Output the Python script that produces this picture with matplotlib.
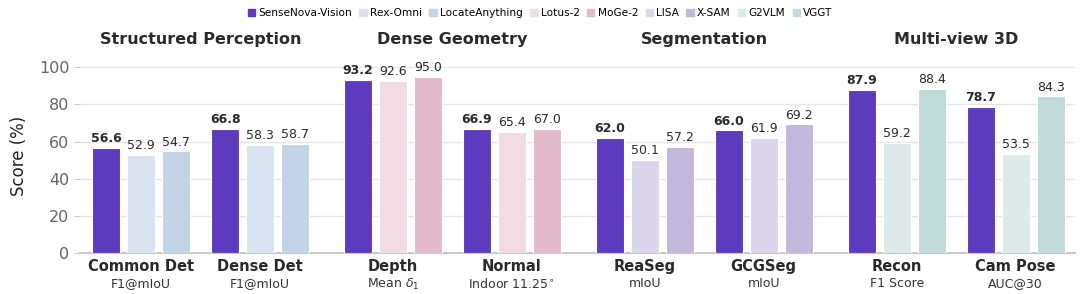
import matplotlib
matplotlib.use("Agg")
import matplotlib.pyplot as plt
from matplotlib.patches import Patch
from matplotlib.transforms import blended_transform_factory
import numpy as np

categories = ["Common Det", "Dense Det", "Depth", "Normal", "ReaSeg", "GCGSeg", "Recon", "Cam Pose"]
metrics = ["F1@mIoU", "F1@mIoU", r"Mean $\delta_1$", r"Indoor 11.25$^\circ$", "mIoU", "mIoU", "F1 Score", "AUC@30"]
sections = ["Structured Perception", "Dense Geometry", "Segmentation", "Multi-view 3D"]

sensenova = [56.6, 66.8, 93.2, 66.9, 62.0, 66.0, 87.9, 78.7]
comp_a = [52.9, 58.3, 92.6, 65.4, 50.1, 61.9, 59.2, 53.5]
comp_b = [54.7, 58.7, 95.0, 67.0, 57.2, 69.2, 88.4, 84.3]
comp_a_names = ["Rex-Omni", "Lotus-2", "LISA", "G2VLM"]
comp_b_names = ["LocateAnything", "MoGe-2", "X-SAM", "VGGT"]

main_name = "SenseNova-Vision"
main_color = "#5E3BBE"
comp_a_colors = ["#DAE4F0", "#F1DCE4", "#DDD6EB", "#DCEBE9"]
comp_b_colors = ["#C3D4E7", "#E3BACB", "#C4B7DC", "#C0DBDA"]

fig = plt.figure(figsize=(10.8, 2.94), dpi=100)
ax = fig.add_axes([80/1080, 41/294, 995/1080, 195/294])

# group centers: within-section step 3.4, between sections 3.8
centers = []
x = 0.0
for i in range(len(categories)):
    if i > 0:
        x += 3.4 if i % 2 == 1 else 3.8
    centers.append(x)
centers = np.array(centers)

w = 0.8
text_col = "#2a2a2a"
for i, c in enumerate(centers):
    s = i // 2
    vals = [sensenova[i], comp_a[i], comp_b[i]]
    cols = [main_color, comp_a_colors[s], comp_b_colors[s]]
    for j, (v, col) in enumerate(zip(vals, cols)):
        xp = c + (j - 1) * 1.0
        ax.bar(xp, v, width=w, color=col, edgecolor="white", linewidth=0.8, zorder=3)
        ax.annotate(f"{v:.1f}", (xp, v), xytext=(0, 2), textcoords="offset points",
                    ha="center", va="bottom", fontsize=9,
                    fontweight="bold" if j == 0 else "normal", color=text_col)

ax.set_xlim(-1.75, 26.7)
ax.set_ylim(0, 105)
ax.set_yticks([0, 20, 40, 60, 80, 100])
ax.tick_params(axis="y", labelsize=11.5, labelcolor="#666666", color="#cccccc", length=4)
ax.set_xticks([])
ax.grid(axis="y", color="#e6e6e6", linewidth=1, zorder=0)
ax.set_axisbelow(True)
for sp in ["top", "right", "left"]:
    ax.spines[sp].set_visible(False)
ax.spines["bottom"].set_color("#c8c8c8")
ax.spines["bottom"].set_linewidth(1.5)
ax.set_ylabel("Score (%)", fontsize=12, color="#222222", labelpad=8)

trans = blended_transform_factory(ax.transData, ax.transAxes)
for c, cat, met in zip(centers, categories, metrics):
    ax.annotate(cat, (c, 0), xycoords=trans, xytext=(0, -4), textcoords="offset points",
                ha="center", va="top", fontsize=10.5, fontweight="bold", color=text_col)
    ax.annotate(met, (c, 0), xycoords=trans, xytext=(0, -17), textcoords="offset points",
                ha="center", va="top", fontsize=9, color="#333333")

for s, name in enumerate(sections):
    xc = (centers[2*s] + centers[2*s+1]) / 2
    ax.annotate(name, (xc, 1), xycoords=trans, xytext=(0, 13), textcoords="offset points",
                ha="center", va="center", fontsize=11.5, fontweight="bold", color=text_col)

handles = [Patch(color=main_color, label=main_name)]
for s in range(4):
    handles.append(Patch(color=comp_a_colors[s], label=comp_a_names[s]))
    handles.append(Patch(color=comp_b_colors[s], label=comp_b_names[s]))
fig.legend(handles=handles, loc="center", bbox_to_anchor=(0.5, 1 - 13/294), ncol=9,
           frameon=False, fontsize=7.6, handlelength=0.7, handleheight=0.7,
           handletextpad=0.3, columnspacing=0.7)

fig.savefig("out.png", dpi=100, facecolor="white")
